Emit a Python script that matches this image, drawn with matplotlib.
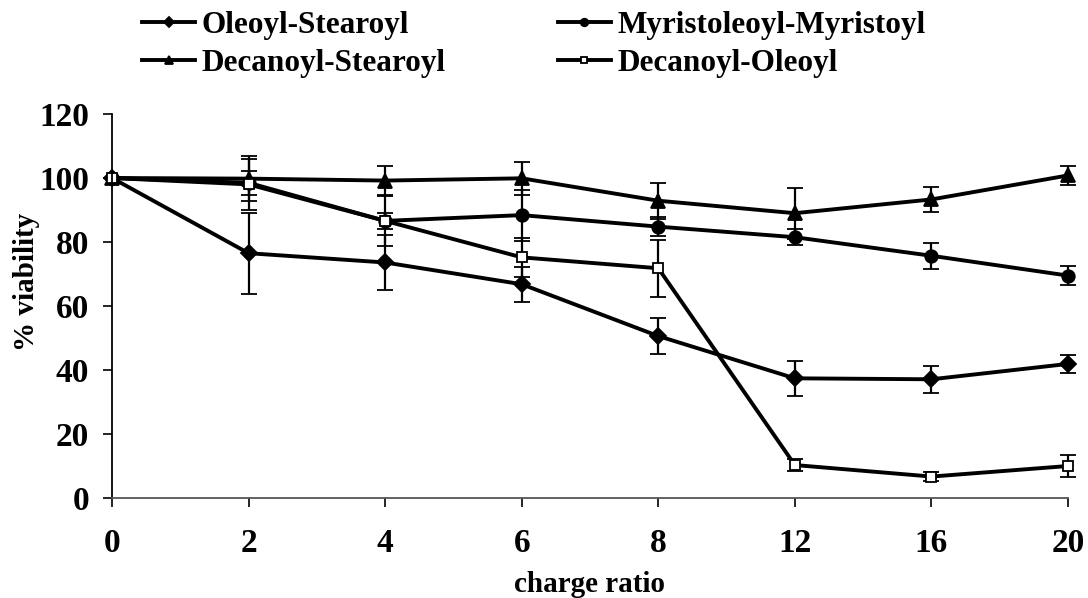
import numpy as np
import matplotlib
matplotlib.use('Agg')
import matplotlib.pyplot as plt

plt.rcParams['font.family'] = ['Liberation Serif', 'DejaVu Serif']
plt.rcParams['font.weight'] = 'bold'

# data
ratios = ['0', '2', '4', '6', '8', '12', '16', '20']

oleoyl_stearoyl = [100, 76.5, 73.6, 66.8, 50.6, 37.4, 37.1, 41.9]
oleoyl_stearoyl_err = [0, 12.7, 8.6, 5.5, 5.5, 5.4, 4.3, 2.8]

myristoleoyl_myristoyl = [100, 98.5, 86.6, 88.4, 84.8, 81.5, 75.7, 69.5]
myristoleoyl_myristoyl_err = [0, 3.8, 2.5, 8.0, 3.0, 2.5, 4.1, 2.9]

decanoyl_stearoyl = [100, 99.8, 99.2, 99.9, 92.9, 89.0, 93.3, 100.8]
decanoyl_stearoyl_err = [0, 7.1, 4.5, 5.2, 5.6, 8.0, 4.0, 3.0]

decanoyl_oleoyl = [100, 98.0, 86.6, 75.2, 71.8, 10.3, 6.7, 10.0]
decanoyl_oleoyl_err = [0, 8.0, 7.7, 6.0, 8.9, 2.0, 1.5, 3.3]

series = [
    ('Oleoyl-Stearoyl', oleoyl_stearoyl, oleoyl_stearoyl_err, 'D', 'black', 8.5),
    ('Myristoleoyl-Myristoyl', myristoleoyl_myristoyl, myristoleoyl_myristoyl_err, 'o', 'black', 9),
    ('Decanoyl-Stearoyl', decanoyl_stearoyl, decanoyl_stearoyl_err, '^', 'black', 9.5),
    ('Decanoyl-Oleoyl', decanoyl_oleoyl, decanoyl_oleoyl_err, 's', 'white', 7),
]

fig = plt.figure(figsize=(10.88, 5.98), dpi=100)
ax = fig.add_axes([112 / 1088, 1 - 498 / 598, (1068 - 112) / 1088, (498 - 114) / 598])

x = np.arange(len(ratios))
lines = {}
for name, vals, err, mk, face, ms in series:
    c = ax.errorbar(x, vals, yerr=err, color='black', lw=2.8, marker=mk, ms=ms,
                    mfc=face, mec='black', mew=1.3, ecolor='black', elinewidth=1.6,
                    capsize=5.5, capthick=1.6, clip_on=False)
    lines[name] = c[0]

ax.set_xlim(0, 7)
ax.set_ylim(0, 120)
ax.set_xticks(x)
ax.set_xticklabels(ratios)
ax.set_yticks(np.arange(0, 121, 20))
ax.tick_params(labelsize=24, length=6.5, width=1.2)
ax.tick_params(axis='x', pad=15)
ax.tick_params(axis='y', pad=10)
for lab in ax.get_xticklabels() + ax.get_yticklabels():
    lab.set_fontweight('bold')

ax.spines['top'].set_visible(False)
ax.spines['right'].set_visible(False)
ax.spines['left'].set_linewidth(1.3)
ax.spines['bottom'].set_linewidth(1.3)
ax.spines['bottom'].set_color('#555555')

ax.set_xlabel('charge ratio', fontsize=21, fontweight='bold')
ax.set_ylabel('% viability', fontsize=21, fontweight='bold')
ax.xaxis.set_label_coords(0.5, (498 - 571) / 384)
ax.yaxis.set_label_coords((40 - 112) / 956, (498 - 282) / 384)

# row-major order like the original legend
order = ['Oleoyl-Stearoyl', 'Decanoyl-Stearoyl', 'Myristoleoyl-Myristoyl', 'Decanoyl-Oleoyl']
fig.legend([lines[n] for n in order], order, ncol=2, loc='upper left',
           bbox_to_anchor=(142 / 1088, 1 - 11 / 598), frameon=False,
           prop={'size': 22.5, 'weight': 'bold'}, handlelength=1.7,
           handletextpad=0.2, columnspacing=3.6, labelspacing=0.3,
           borderpad=0, borderaxespad=0, markerscale=0.6)

fig.savefig('out.png', dpi=100)
